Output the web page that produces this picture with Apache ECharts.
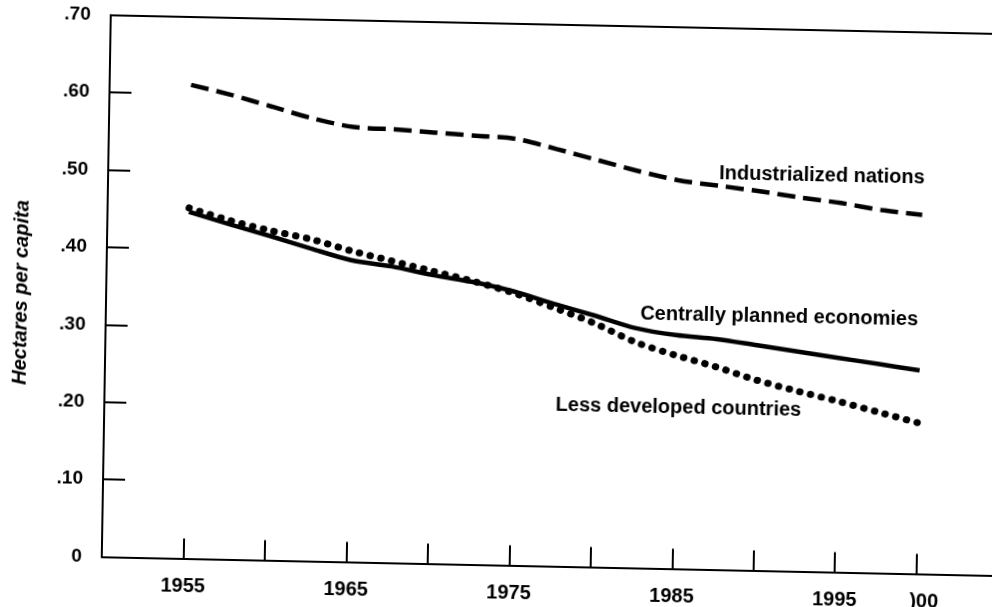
<!DOCTYPE html>
<html>
<head>
<meta charset="utf-8">
<script src="https://cdn.jsdelivr.net/npm/echarts@6/dist/echarts.min.js"></script>
<style>
  html, body { margin: 0; padding: 0; background: #ffffff; overflow: hidden; width: 992px; height: 607px; }
  /* the reference is a slightly skewed scan: reproduce the tilt */
  #chart { width: 1010px; height: 607px; transform-origin: 0 0; transform: matrix(1, 0.021, -0.0166, 1, 0, 0); background: #ffffff; }
</style>
</head>
<body>
<div id="chart"></div>
<script>
// ---- data ----
var years = [1955, 1957.5, 1960, 1962.5, 1965, 1967.5, 1970, 1972.5, 1975, 1977.5, 1980, 1982.5, 1985, 1987.5, 1990, 1992.5, 1995, 1997.5, 2000];
var industrialized   = [0.612, 0.600, 0.586, 0.572, 0.562, 0.560, 0.557, 0.554, 0.551, 0.539, 0.526, 0.513, 0.502, 0.496, 0.490, 0.483, 0.477, 0.469, 0.464];
var centrallyPlanned = [0.448, 0.433, 0.419, 0.404, 0.390, 0.383, 0.373, 0.365, 0.354, 0.339, 0.325, 0.310, 0.302, 0.298, 0.291, 0.284, 0.277, 0.270, 0.263];
var lessDeveloped    = [0.453, 0.438, 0.426, 0.416, 0.402, 0.390, 0.378, 0.366, 0.352, 0.334, 0.315, 0.292, 0.276, 0.262, 0.246, 0.233, 0.221, 0.208, 0.195];

var seriesNames = ['Industrialized nations', 'Centrally planned economies', 'Less developed countries'];
var labelYears  = [1987.5, 1982.8, 1977.7];
var labelValues = [0.512, 0.328, 0.208];

var xTickValues = [1955, 1965, 1975, 1985, 1995, 2000];
var xTickLabels = ['1955', '1965', '1975', '1985', '1995', ')00'];
var yTickValues = [0, 0.1, 0.2, 0.3, 0.4, 0.5, 0.6, 0.7];
var yTickLabels = ['0', '.10', '.20', '.30', '.40', '.50', '.60', '.70'];
var yTitle = 'Hectares per capita';

// ---- chart ----
var FONT = '"Liberation Sans", Arial, Helvetica, sans-serif';
function pairs(vals) { return years.map(function (y, i) { return [y, vals[i]]; }); }
function findLabel(vals, labels, v) {
  for (var i = 0; i < vals.length; i++) { if (Math.abs(vals[i] - v) < 1e-6) return labels[i]; }
  return '';
}
function annot(i) {
  return {
    symbol: 'circle', symbolSize: 0, silent: true,
    label: {
      show: true, position: [0, 0], align: 'left', verticalAlign: 'middle',
      color: '#000', fontFamily: FONT, fontWeight: 'bold', fontSize: 20,
      formatter: seriesNames[i]
    },
    data: [{ coord: [labelYears[i], labelValues[i]] }]
  };
}

var chart = echarts.init(document.getElementById('chart'), null, { renderer: 'canvas', width: 1010, height: 607 });
chart.setOption({
  animation: false,
  backgroundColor: '#ffffff',
  grid: { left: 111, top: 12.7, width: 977.6, height: 541.9, containLabel: false, outerBoundsMode: 'none' },
  xAxis: [{
    type: 'value', min: 1950, max: 2010, interval: 5, position: 'bottom',
    axisLine: { show: true, lineStyle: { color: '#000', width: 2 } },
    axisTick: { show: true, inside: true, length: 20, lineStyle: { color: '#000', width: 2 } },
    splitLine: { show: false },
    axisLabel: {
      show: true, margin: 18, color: '#000', fontFamily: FONT, fontWeight: 'bold', fontSize: 20,
      formatter: function (v) {
        var t = findLabel(xTickValues, xTickLabels, v);
        return t === ')00' ? '{s|' + t + '}' : t;
      },
      rich: { s: { fontFamily: FONT, fontWeight: 'bold', fontSize: 20, color: '#000', padding: [0, 0, 0, 16] } }
    }
  }, {
    type: 'value', min: 1950, max: 2010, interval: 5, position: 'top',
    axisLine: { show: true, lineStyle: { color: '#000', width: 2 } },
    axisTick: { show: false }, axisLabel: { show: false }, splitLine: { show: false }
  }],
  yAxis: {
    type: 'value', min: 0, max: 0.7, interval: 0.1,
    axisLine: { show: true, lineStyle: { color: '#000', width: 2 } },
    axisTick: { show: true, inside: true, length: 22, lineStyle: { color: '#000', width: 2 } },
    splitLine: { show: false },
    axisLabel: {
      show: true, margin: 20, color: '#000', fontFamily: FONT, fontWeight: 'bold', fontSize: 19,
      padding: [4, 0, 0, 0],
      formatter: function (v) { return findLabel(yTickValues, yTickLabels, v); }
    }
  },
  graphic: [{
    type: 'text', x: 26.5, y: 292, rotation: Math.PI / 2, silent: true,
    style: { text: yTitle, fill: '#000', font: 'italic bold 20px ' + FONT, align: 'center', verticalAlign: 'middle' }
  }],
  series: [{
    name: seriesNames[0], type: 'line', data: pairs(industrialized), showSymbol: false, smooth: 0.3,
    lineStyle: { color: '#000', width: 4.5, type: [18, 8], cap: 'butt' },
    markPoint: annot(0)
  }, {
    name: seriesNames[1], type: 'line', data: pairs(centrallyPlanned), showSymbol: false, smooth: 0.3,
    lineStyle: { color: '#000', width: 4.5, type: 'solid' },
    markPoint: annot(1)
  }, {
    name: seriesNames[2], type: 'line', data: pairs(lessDeveloped), showSymbol: false, smooth: 0.3,
    lineStyle: { color: '#000', width: 7, type: [0.5, 10.5], cap: 'round' },
    markPoint: annot(2)
  }]
});
</script>
</body>
</html>
